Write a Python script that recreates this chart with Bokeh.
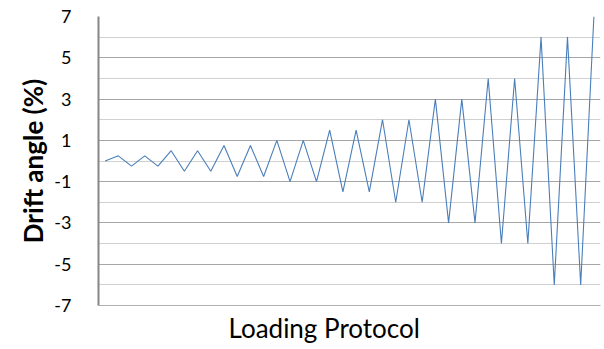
from bokeh.plotting import figure
from bokeh.models import FixedTicker, Range1d, Title, PrintfTickFormatter
from bokeh.embed import file_html
from bokeh.resources import INLINE

# Loading protocol (drift angle %, per cycle peak)
drift = [0, 0.25, -0.25, 0.25, -0.25, 0.5, -0.5, 0.5, -0.5,
         0.75, -0.75, 0.75, -0.75, 1, -1, 1, -1,
         1.5, -1.5, 1.5, -1.5, 2, -2, 2, -2,
         3, -3, 3, -3, 4, -4, 4, -4,
         6, -6, 6, -6, 7]
steps = list(range(len(drift)))
y_major = [-7, -5, -3, -1, 1, 3, 5, 7]
y_minor = [-6, -4, -2, 0, 2, 4, 6]
y_title = "Drift angle (%)"
x_title = "Loading Protocol"

FONT = "Lato"

p = figure(width=602, height=347, output_backend="svg", toolbar_location=None,
           x_range=Range1d(-0.5, len(drift) - 0.5), y_range=Range1d(-7, 7),
           min_border_left=98, min_border_right=2, min_border_top=16,
           min_border_bottom=42)
p.outline_line_color = None
p.background_fill_color = "white"
p.border_fill_color = "white"

p.line(steps, drift, line_color="#4A7EBB", line_width=1.1)

# y axis
p.yaxis.ticker = FixedTicker(ticks=y_major, minor_ticks=y_minor)
p.yaxis.formatter = PrintfTickFormatter(format="%d")
p.yaxis.major_tick_line_color = None
p.yaxis.minor_tick_line_color = None
p.yaxis.axis_line_color = "#868686"
p.yaxis.axis_line_width = 2
p.yaxis.major_label_text_font = FONT
p.yaxis.major_label_text_font_size = "18px"
p.yaxis.major_label_text_color = "#000000"
p.yaxis.major_label_standoff = 21
p.yaxis.axis_label = y_title
p.yaxis.axis_label_text_font = FONT
p.yaxis.axis_label_text_font_style = "bold"
p.yaxis.axis_label_text_font_size = "26px"
p.yaxis.axis_label_text_color = "#000000"
p.yaxis.axis_label_standoff = 2

p.ygrid.grid_line_color = "#a6a6a6"
p.ygrid.minor_grid_line_color = "#d0d0d0"
p.xgrid.grid_line_color = None

# x axis: line only
p.xaxis.ticker = FixedTicker(ticks=[])
p.xaxis.major_label_text_font_size = "0px"
p.xaxis.major_label_standoff = 0
p.xaxis.major_tick_out = 0
p.xaxis.major_tick_line_color = None
p.xaxis.minor_tick_line_color = None
p.xaxis.axis_line_color = "#b0b0b0"
p.xaxis.axis_line_width = 1

p.add_layout(Title(text=x_title, text_font=FONT, text_font_size="26px",
                   text_font_style="normal", text_color="#000000",
                   align="left", offset=130, standoff=8), "below")

open("out.html", "w").write(file_html(p, INLINE))
